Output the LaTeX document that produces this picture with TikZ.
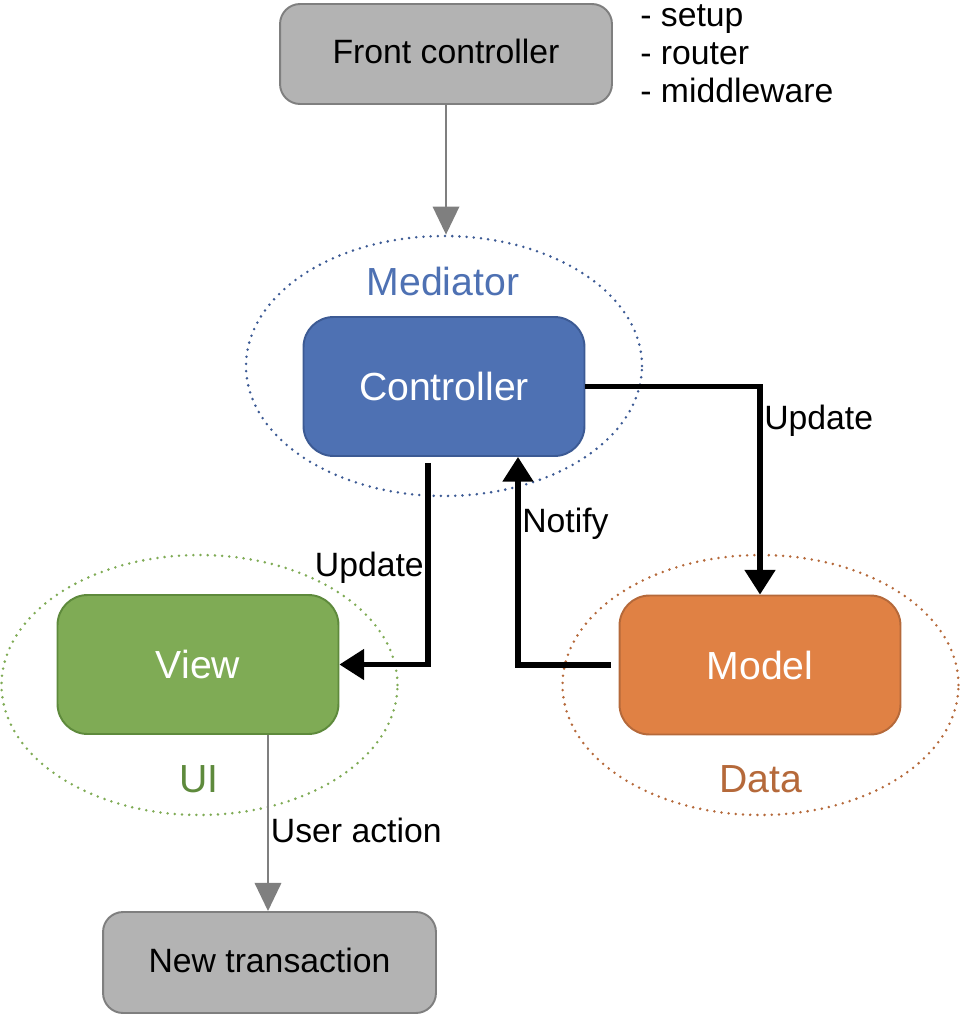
\documentclass[tikz,border=0pt]{standalone}
\usepackage{fontspec}
\setmainfont{Liberation Sans}
\usepackage{tikz}
\usetikzlibrary{positioning}
\usetikzlibrary{shapes.geometric}
\usetikzlibrary{arrows.meta}

\definecolor{boxgray}{HTML}{B3B3B3}
\definecolor{linegray}{HTML}{7F7F7F}
\definecolor{medblue}{HTML}{4E71B3}
\definecolor{medline}{HTML}{3C5A94}
\definecolor{uigreen}{HTML}{7FAB55}
\definecolor{uiline}{HTML}{5E8A3C}
\definecolor{dataorange}{HTML}{E08144}
\definecolor{dataline}{HTML}{B5693A}

\begin{document}
\begin{tikzpicture}[
        x = 0.02cm,
        y = -0.02cm,
        font = \fontsize{19.2}{21.8}\selectfont,
        part/.style = {
            draw = #1,
            rounded corners = 0.6cm,
            line width = 1.1pt,
            minimum width = 5.62cm,
            minimum height = 2.78cm,
            text = white,
            font = \fontsize{22.3}{26}\selectfont
        },
        greybox/.style = {
            draw = linegray,
            fill = boxgray,
            rounded corners = 0.4cm,
            line width = 1.1pt,
            minimum width = 6.64cm,
            minimum height = 2cm
        },
        layer/.style = {
            draw = #1,
            ellipse,
            minimum width = 7.92cm,
            minimum height = 5.2cm,
            line width = 1.6pt,
            line cap = round,
            dash pattern = on 0pt off 4.1pt
        },
        flow/.style = {
            line width = 2.9pt,
            -{Triangle[length=14pt, width=17pt]}
        },
        act/.style = {
            draw = linegray,
            line width = 1.4pt,
            -{Triangle[length=16pt, width=15pt]}
        },
        lbl/.style = {inner sep = 1pt}
        ]
        \useasboundingbox (0,0) rectangle (960,1017);
%
        \node[layer=medline] (med) at (444,366) {};
        \node[layer=uigreen] (ui) at (199.5,685) {};
        \node[layer=dataline] (data) at (760.5,685) {};
%
        \node[font=\fontsize{22.3}{26}\selectfont, text=medblue] (medtxt) at (443,281) {Mediator};
        \node[font=\fontsize{22.3}{26}\selectfont, text=uiline] (uitxt) at (199,779) {UI};
        \node[font=\fontsize{22.3}{26}\selectfont, text=dataline] (datatxt) at (761,779) {Data};
%
        \node[greybox] (front) at (446,54) {\raisebox{3pt}{Front controller}};
        \node[align=left, anchor=north west, inner sep=0pt] (steps) at (640,4) {- setup\\- router\\- middleware};
%
        \node[part=medline, fill=medblue] (ctrl) at (444,386.5) {Controller};
        \node[part=uiline, fill=uigreen] (view) at (198,664.5) {View};
        \node[part=dataline, fill=dataorange] (model) at (760,665) {Model};
%
        \node[greybox, minimum width=6.66cm, minimum height=2.02cm] (newtx) at (269.5,962.5) {\raisebox{2pt}{New transaction}};
%
%
        \draw[act] (front.south) -- (front.south |- med.north);
        \draw[act] ([xshift=1.4cm]view.south) -- ([xshift=1.4cm]view.south |- newtx.north)
                        node[lbl, pos=0.545, anchor=west] {User action};
%
        \draw[flow] (ctrl.east) -| (model.north)
                        node[lbl, pos=0.583, anchor=west] {Update};
        \draw[flow] ([xshift=-0.16cm]model.west) -| ([xshift=1.48cm]ctrl.south)
                        node[lbl, pos=0.84, anchor=west] {Notify};
        \draw[flow] ([xshift=-0.32cm, yshift=-0.12cm]ctrl.south) |- (view.east)
                        node[lbl, pos=0.261, anchor=east] {Update};
%
    \end{tikzpicture}
\end{document}
